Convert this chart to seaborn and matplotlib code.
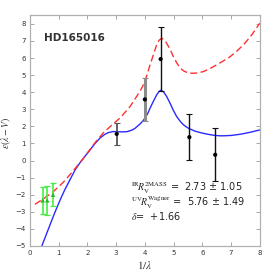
import matplotlib
matplotlib.use("Agg")
import matplotlib.pyplot as plt
import seaborn as sns
import pandas as pd

# ---- data ----
blue_x = [0.40, 0.55, 0.70, 0.85, 1.05, 1.20, 1.39, 1.57, 1.74, 1.90, 2.09, 2.25, 2.44, 2.60, 2.73,
          2.90, 3.02, 3.20, 3.37, 3.55, 3.66, 3.83, 3.95, 4.10, 4.18, 4.30, 4.41, 4.50, 4.56,
          4.65, 4.76, 4.88, 4.99, 5.10, 5.23, 5.34, 5.48, 5.57, 5.75, 5.95, 6.16, 6.40, 6.60,
          6.76, 7.00, 7.32, 7.60, 8.00]
blue_y = [-5.05, -4.40, -3.75, -3.10, -2.30, -1.75, -1.13, -0.55, -0.13, 0.22, 0.62, 0.97, 1.32, 1.53, 1.64,
          1.70, 1.69, 1.68, 1.69, 1.78, 1.89, 2.14, 2.35, 2.75, 3.06, 3.48, 3.84, 4.05, 4.12,
          4.02, 3.75, 3.35, 2.95, 2.60, 2.30, 2.10, 1.93, 1.85, 1.72, 1.63, 1.55, 1.48, 1.45,
          1.45, 1.47, 1.54, 1.63, 1.79]

red_x = [0.17, 0.46, 0.81, 1.16, 1.51, 1.86, 2.03, 2.30, 2.55, 2.80, 3.14, 3.48, 3.83, 4.00,
         4.18, 4.30, 4.41, 4.50, 4.59, 4.68, 4.76, 4.88, 4.99, 5.11, 5.23, 5.35, 5.46, 5.57,
         5.69, 5.85, 6.04, 6.25, 6.50, 6.75, 6.97, 7.20, 7.43, 7.60, 7.72, 7.86, 8.00]
red_y = [-2.56, -2.25, -1.82, -1.27, -0.59, 0.13, 0.52, 1.12, 1.62, 2.00, 2.50, 3.15, 4.05, 4.60,
         5.60, 6.20, 6.77, 7.05, 7.16, 7.05, 6.87, 6.50, 6.10, 5.72, 5.42, 5.25, 5.16, 5.12,
         5.11, 5.13, 5.21, 5.37, 5.60, 5.85, 6.08, 6.40, 6.77, 7.10, 7.35, 7.68, 8.04]

uv_x = [3.02, 4.00, 4.55, 5.55, 6.45]
uv_y = [1.56, 3.58, 5.94, 1.37, 0.34]
uv_err = [0.63, 1.24, 1.85, 1.35, 1.55]
uv_col = ["#555555", "#8c8c8c", "#111111", "#111111", "#111111"]
uv_lw = [1.3, 2.2, 1.0, 1.0, 1.0]

ir_x = [0.44, 0.60, 0.80]
ir_y = [-2.33, -2.33, -2.00]
ir_err = [0.80, 0.85, 0.68]

x_ticks = [0, 1, 2, 3, 4, 5, 6, 7, 8]
y_ticks = [-5, -4, -3, -2, -1, 0, 1, 2, 3, 4, 5, 6, 7, 8]

star = "HD165016"
txt1 = r"$^{\rm IR}\!R_{\rm V}^{\rm 2MASS}$ =  2.73 ± 1.05"
txt2 = r"$^{\rm UV}\!R_{\rm V}^{\rm Wagner}$ =  5.76 ± 1.49"
txt3 = r"$\delta$=  +1.66"

# ---- figure ----
sns.set_style("ticks")
plt.rcParams["mathtext.fontset"] = "stix"
fig = plt.figure(figsize=(2.74, 2.74), dpi=100)
ax = fig.add_axes([30 / 274, 1 - 246 / 274, 229.7 / 274, 231 / 274])

dfb = pd.DataFrame({"x": blue_x, "y": blue_y})
dfr = pd.DataFrame({"x": red_x, "y": red_y})
sns.lineplot(data=dfb, x="x", y="y", ax=ax, color="#2a2aff", lw=1.0, sort=False, estimator=None)
sns.lineplot(data=dfr, x="x", y="y", ax=ax, color="#ff3030", lw=1.0, sort=False, estimator=None,
             dashes=False)
ax.lines[-1].set_dashes([5, 2.5])

for xi, yi, ei, c, lw in zip(uv_x, uv_y, uv_err, uv_col, uv_lw):
    ax.errorbar([xi], [yi], yerr=[ei], fmt="none", ecolor=c, elinewidth=lw, capsize=2.0,
                capthick=0.8)
sns.scatterplot(x=uv_x, y=uv_y, ax=ax, color="black", s=9, marker="o", edgecolor="none", zorder=5)

ax.errorbar(ir_x, ir_y, yerr=ir_err, fmt="none", ecolor="#44ee44", elinewidth=1.2, capsize=2.2,
            capthick=0.9)
sns.scatterplot(x=ir_x, y=ir_y, ax=ax, color="#22bb22", s=10, marker="^", edgecolor="none", zorder=5)

ax.set_xlim(0, 8)
ax.set_ylim(-5, 8.52)
ax.set_xticks(x_ticks)
ax.set_yticks(y_ticks)
ax.tick_params(direction="in", length=3, width=0.6, color="#999999", labelsize=5,
               labelcolor="#333333", top=True, right=True, pad=3)
for s in ax.spines.values():
    s.set_color("#b0b0b0")
    s.set_linewidth(0.9)

ax.set_xlabel(r"$1/\lambda$", fontsize=8, color="#333333", labelpad=2)
ax.set_ylabel(r"$\epsilon(\lambda - V)$", fontsize=7, color="#333333")
ax.yaxis.set_label_coords(-0.075, 0.49)

ax.text(0.49, 7.2, star, fontsize=7.5, fontweight="bold", color="#333333", va="center",
        family="DejaVu Sans")
ax.text(3.52, -1.58, txt1, fontsize=7.0, color="#222222", va="center", family="DejaVu Sans")
ax.text(3.52, -2.46, txt2, fontsize=7.0, color="#222222", va="center", family="DejaVu Sans")
ax.text(3.52, -3.22, txt3, fontsize=7.0, color="#222222", va="center", family="DejaVu Sans")

fig.savefig("out.png", dpi=100)
